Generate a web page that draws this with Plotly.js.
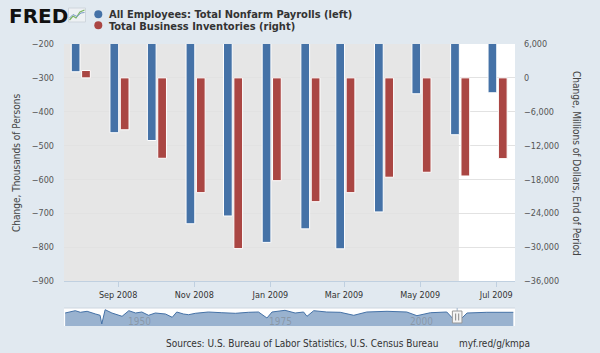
<!DOCTYPE html>
<html>
<head>
<meta charset="utf-8">
<script src="https://cdn.plot.ly/plotly-3.0.1.min.js"></script>
<style>
  html, body { margin: 0; padding: 0; background: #e1e9f0; }
  #chart { width: 600px; height: 353px; }
</style>
</head>
<body>
<div id="chart"></div>
<script>
// ---- Data ----
const months = ['2008-08-01','2008-09-01','2008-10-01','2008-11-01','2008-12-01','2009-01-01',
                '2009-02-01','2009-03-01','2009-04-01','2009-05-01','2009-06-01','2009-07-01'];
// All Employees: Total Nonfarm Payrolls, change, thousands of persons (left axis)
const payrolls = [-282, -462, -485, -731, -708, -786, -746, -805, -696, -347, -468, -344];
// Total Business Inventories, change, millions of dollars (right axis)
const inventories = [1300, -9200, -14250, -20340, -30260, -18220, -21940, -20340, -17610, -16730, -17390, -14310];

const seriesNames = ['All Employees: Total Nonfarm Payrolls (left)', 'Total Business Inventories (right)'];
const leftTitle = 'Change, Thousands of Persons';
const rightTitle = 'Change, Millions of Dollars, End of Period';
const sourceText = 'Sources: U.S. Bureau of Labor Statistics, U.S. Census Bureau';
const linkText = 'myf.red/g/kmpa';

// Recession shading
const recessionStart = '2007-12-01';
const recessionEnd = '2009-06-01';

// Navigator (long history overview)
const navYears = [1939.5,1941.3,1942.2,1943.4,1944.9,1945.7,1946.0,1946.6,1947.8,1949.6,1950.8,1952.0,1953.1,
  1954.3,1955.5,1957.3,1958.5,1959.3,1960.5,1961.4,1962.6,1964.9,1967.3,1969.7,1972.0,1973.8,1975.3,1976.2,
  1978.5,1980.3,1981.8,1982.4,1983.6,1985.9,1988.3,1990.7,1993.0,1996.6,2000.1,2001.9,2004.3,2007.2,2009.0,
  2010.8,2014.3,2019.0];
const navValues = [200,409,264,355,109,-9,-800,500,200,-100,409,200,291,
  -9,200,109,-191,291,109,45,173,291,227,173,264,291,-255,291,
  445,200,291,-100,409,291,264,-9,291,355,291,-45,227,291,-709,
  200,264,264];
const navTickYears = [1950, 1975, 2000];
const NAV_FLOOR = -982, NAV_TOP = 655;

// ---- Styling ----
const BLUE = '#4572a7', RED = '#aa4643';
const FONT = '"DejaVu Sans Condensed", "DejaVu Sans", sans-serif';
const DAY = 86400000;

// pixel -> paper helpers for decorations (plot area: x 64..515, y 44..326 incl. navigator)
const PL = 64, PR = 515, PT = 44, PB = 326;
const px = v => (v - PL) / (PR - PL);
const py = v => (PB - v) / (PB - PT);

const traces = [
  {
    type: 'bar', x: months, y: payrolls, name: seriesNames[0], yaxis: 'y', xaxis: 'x',
    marker: { color: BLUE, line: { color: '#ffffff', width: 1 } },
    offset: -6.6 * DAY, width: 7.0 * DAY, showlegend: false, hoverinfo: 'x+y'
  },
  {
    type: 'bar', x: months, y: inventories, name: seriesNames[1], yaxis: 'y2', xaxis: 'x',
    marker: { color: RED, line: { color: '#ffffff', width: 1 } },
    offset: 1.7 * DAY, width: 7.0 * DAY, showlegend: false, hoverinfo: 'x+y'
  },
  {
    type: 'scatter', mode: 'lines', x: [navYears[0], navYears[navYears.length - 1]], y: [NAV_FLOOR, NAV_FLOOR],
    xaxis: 'x2', yaxis: 'y3', line: { width: 0, color: BLUE }, showlegend: false, hoverinfo: 'skip'
  },
  {
    type: 'scatter', mode: 'lines', x: navYears, y: navValues, xaxis: 'x2', yaxis: 'y3',
    line: { color: BLUE, width: 1 }, fill: 'tonexty', fillcolor: 'rgba(69,114,167,0.55)',
    showlegend: false, hoverinfo: 'skip'
  }
];

function decYear(s) { const d = new Date(s); return d.getUTCFullYear() + d.getUTCMonth() / 12; }
const handleYear = (decYear(months[0]) + decYear(months[months.length - 1])) / 2;
const HW = 0.85; // half width of handle, in years (~5px)

const layout = {
  width: 600, height: 353,
  paper_bgcolor: '#e1e9f0', plot_bgcolor: '#ffffff',
  margin: { l: PL, r: 600 - PR, t: PT, b: 353 - PB, pad: 0 },
  font: { family: FONT, size: 9, color: '#555' },
  showlegend: false,
  bargap: 0,
  xaxis: {
    type: 'date', domain: [0, 1], anchor: 'y',
    range: ['2008-07-19 14:00', '2009-07-16 00:00'],
    tick0: '2008-09-01', dtick: 'M2', tickformat: '%b %Y',
    ticks: 'outside', ticklen: 5, tickcolor: '#c0d0e0', tickwidth: 1,
    showline: true, linecolor: '#c0d0e0', linewidth: 1,
    showgrid: false, zeroline: false,
    tickfont: { family: FONT, size: 9, color: '#333' }
  },
  yaxis: {
    domain: [py(281), 1], range: [-900, -200], dtick: 100, tick0: -900,
    showgrid: true, gridcolor: '#e2e2e2', gridwidth: 1, zeroline: false,
    ticks: '', ticklabelstandoff: 9, showline: false,
    tickfont: { family: FONT, size: 9, color: '#555' }
  },
  yaxis2: {
    overlaying: 'y', side: 'right', anchor: 'x',
    range: [-36000, 6000], dtick: 6000, tick0: -36000, tickformat: ',d',
    showgrid: false, zeroline: false, ticks: '', ticklabelstandoff: 8,
    tickfont: { family: FONT, size: 9, color: '#555' }
  },
  xaxis2: {
    domain: [0, 1], anchor: 'y3', range: [1939.3, 2019.3],
    showticklabels: false, ticks: '', showgrid: false, zeroline: false, showline: false
  },
  yaxis3: {
    domain: [0, py(308)], range: [NAV_FLOOR, NAV_TOP], visible: false, fixedrange: true
  },
  shapes: [
    // recession shading
    { type: 'rect', xref: 'x', yref: 'paper', x0: recessionStart, x1: recessionEnd, y0: py(281), y1: 1,
      fillcolor: '#e6e6e6', line: { width: 0 }, layer: 'below' },
    // navigator top border
    { type: 'line', xref: 'paper', yref: 'paper', x0: 0, x1: 1, y0: py(308), y1: py(308),
      line: { color: '#cdd6e0', width: 1 } },
    // navigator handle
    { type: 'line', xref: 'x2', yref: 'paper', x0: handleYear, x1: handleYear, y0: 0, y1: py(308),
      line: { color: '#9fb3ca', width: 1 } },
    { type: 'rect', xref: 'x2', yref: 'paper', x0: handleYear - HW, x1: handleYear + HW, y0: py(323), y1: py(311),
      fillcolor: '#f4f4f4', line: { color: '#999999', width: 1 } },
    { type: 'line', xref: 'x2', yref: 'paper', x0: handleYear - 0.27, x1: handleYear - 0.27, y0: py(320.5), y1: py(313.5),
      line: { color: '#888888', width: 1 } },
    { type: 'line', xref: 'x2', yref: 'paper', x0: handleYear + 0.27, x1: handleYear + 0.27, y0: py(320.5), y1: py(313.5),
      line: { color: '#888888', width: 1 } },
    // legend markers
    { type: 'circle', xref: 'paper', yref: 'paper', x0: px(94.3), x1: px(102.3), y0: py(18.3), y1: py(10.3),
      fillcolor: BLUE, line: { width: 0 } },
    { type: 'circle', xref: 'paper', yref: 'paper', x0: px(94.3), x1: px(102.3), y0: py(29.3), y1: py(21.3),
      fillcolor: RED, line: { width: 0 } },
    // FRED logo icon
    { type: 'rect', xref: 'paper', yref: 'paper', x0: px(68.5), x1: px(85.5), y0: py(22), y1: py(8),
      fillcolor: '#eef1f4', line: { color: '#cfd6dd', width: 1 } },
    { type: 'path', xref: 'paper', yref: 'paper',
      path: 'M ' + px(69.5) + ' ' + py(20) + ' L ' + px(73) + ' ' + py(16) + ' L ' + px(76) + ' ' + py(18) +
            ' L ' + px(80) + ' ' + py(12) + ' L ' + px(84.5) + ' ' + py(10),
      line: { color: '#7bb661', width: 1.2 } },
    { type: 'path', xref: 'paper', yref: 'paper',
      path: 'M ' + px(69.5) + ' ' + py(18) + ' L ' + px(73) + ' ' + py(14.5) + ' L ' + px(77) + ' ' + py(16.5) +
            ' L ' + px(81) + ' ' + py(13) + ' L ' + px(84.5) + ' ' + py(12.5),
      line: { color: '#7d9dc6', width: 1 } }
  ],
  annotations: [
    { xref: 'paper', yref: 'paper', x: px(7), y: py(16), xanchor: 'left', yanchor: 'middle', showarrow: false,
      text: '<b>FRED</b>', font: { family: '"DejaVu Sans", sans-serif', size: 20, color: '#111' } },
    { xref: 'paper', yref: 'paper', x: px(107), y: py(14.5), xanchor: 'left', yanchor: 'middle', showarrow: false,
      text: '<b>' + seriesNames[0] + '</b>', font: { family: FONT, size: 11, color: '#333' } },
    { xref: 'paper', yref: 'paper', x: px(107), y: py(26), xanchor: 'left', yanchor: 'middle', showarrow: false,
      text: '<b>' + seriesNames[1] + '</b>', font: { family: FONT, size: 11, color: '#333' } },
    { xref: 'paper', yref: 'paper', x: px(164), y: py(343), xanchor: 'left', yanchor: 'middle', showarrow: false,
      text: sourceText, font: { family: FONT, size: 10, color: '#333' } },
    { xref: 'paper', yref: 'paper', x: px(457), y: py(343), xanchor: 'left', yanchor: 'middle', showarrow: false,
      text: linkText, font: { family: FONT, size: 10, color: '#333' } },
    // axis titles
    { xref: 'paper', yref: 'paper', x: px(16), y: py(163), xanchor: 'center', yanchor: 'middle', showarrow: false,
      textangle: -90, text: leftTitle, font: { family: FONT, size: 10, color: '#444' } },
    { xref: 'paper', yref: 'paper', x: px(577), y: py(163), xanchor: 'center', yanchor: 'middle', showarrow: false,
      textangle: 90, text: rightTitle, font: { family: FONT, size: 10, color: '#444' } },
    // navigator year labels
    ...navTickYears.map(yr => ({
      xref: 'x2', yref: 'paper', x: yr, y: py(321), xanchor: 'left', yanchor: 'middle', showarrow: false,
      xshift: 2, text: String(yr), font: { family: FONT, size: 10, color: 'rgba(120,120,120,0.45)' }
    }))
  ]
};

Plotly.newPlot('chart', traces, layout, { staticPlot: true, displayModeBar: false });
</script>
</body>
</html>
